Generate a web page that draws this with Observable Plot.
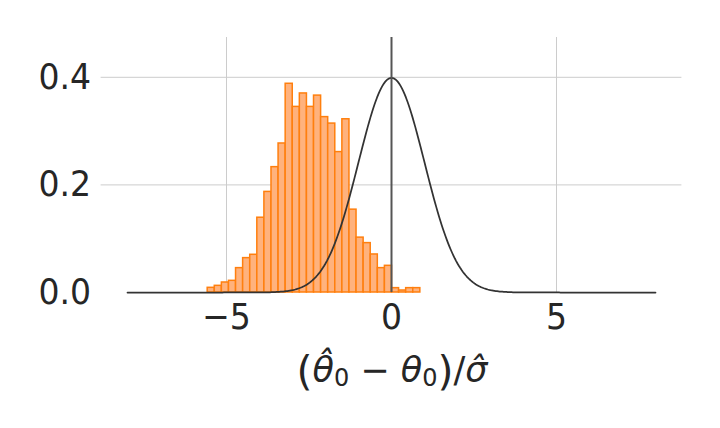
<!DOCTYPE html>
<html><head><meta charset="utf-8">
<script src="https://cdn.jsdelivr.net/npm/d3@7"></script>
<script src="https://cdn.jsdelivr.net/npm/@observablehq/plot@0.6"></script>
<style>body{margin:0;background:#fff;} svg{display:block}</style>
</head><body><div id="chart"></div>
<script>
// Histogram (density) of standardized estimates
const binStart = -5.57;
const binWidth = 0.2148;
const densities = [0.0087, 0.0124, 0.0186, 0.0217, 0.0453, 0.0639, 0.0701, 0.139, 0.187, 0.233,
                   0.277, 0.388, 0.345, 0.370, 0.345, 0.366, 0.326, 0.314, 0.261, 0.322,
                   0.154, 0.102, 0.0918, 0.0707, 0.0453, 0.0496, 0.0081, 0.0037, 0.0081, 0.0081];
// Reference standard normal density, drawn over this range
const curveRange = [-8, 8];
const curveSamples = 401;
const xTicks = [-5, 0, 5];
const yTicks = [0, 0.2, 0.4];
const xDomain = [-8.8, 8.8];
const yDomain = [0, 0.474];

const bins = densities.map((d, i) => ({x1: binStart + i * binWidth, x2: binStart + (i + 1) * binWidth, d}));
const curve = d3.range(curveSamples).map(i => {
  const x = curveRange[0] + (curveRange[1] - curveRange[0]) * i / (curveSamples - 1);
  return {x, y: Math.exp(-x * x / 2) / Math.sqrt(2 * Math.PI)};
});

const fmtX = d => d < 0 ? "\u2212" + Math.abs(d) : String(d);

const plot = Plot.plot({
  width: 720, height: 428,
  marginLeft: 100.6, marginRight: 38.6, marginTop: 37, marginBottom: 136,
  style: {fontFamily: "DejaVu Sans", color: "#262626", background: "#fff"},
  x: {domain: xDomain},
  y: {domain: yDomain},
  marks: [
    Plot.ruleX(xTicks, {stroke: "#cccccc", strokeWidth: 1}),
    Plot.ruleY(yTicks.filter(v => v > 0), {stroke: "#cccccc", strokeWidth: 1}),
    Plot.rect(bins, {x1: "x1", x2: "x2", y1: 0, y2: "d", fill: "#ffb27d", stroke: "#ff7f0e", strokeWidth: 1.5}),
    Plot.line(curve, {x: "x", y: "y", stroke: "#333333", strokeWidth: 1.75}),
    Plot.ruleX([0], {stroke: "#555555", strokeWidth: 2}),
    Plot.axisX(xTicks, {tickSize: 0, tickPadding: 11, fontSize: 36, tickFormat: fmtX, label: null}),
    Plot.axisY(yTicks, {tickSize: 0, tickPadding: 10, fontSize: 36, tickFormat: d3.format(".1f"), label: null})
  ]
});
document.getElementById("chart").appendChild(plot);

const svg = d3.select(plot);
// slightly condensed tick labels, as in the reference
svg.selectAll('g[aria-label="x-axis tick label"] text, g[aria-label="y-axis tick label"] text').each(function() {
  const el = d3.select(this);
  const tr = el.attr("transform");
  if (tr) el.attr("transform", tr + " scale(0.92,1)");
  else {
    const x = +el.attr("x") || 0, y = +el.attr("y") || 0;
    el.attr("x", null).attr("y", null).attr("transform", `translate(${x},${y}) scale(0.92,1)`);
  }
});

// x-axis label with math-style formatting
const lab = svg.append("text")
  .attr("x", plot.scale("x").apply(0) + 1)
  .attr("y", 382)
  .attr("text-anchor", "middle")
  .attr("font-family", "DejaVu Sans")
  .attr("font-size", 35)
  .attr("fill", "#262626");
const parts = [
  {t: "(", paren: true},
  {t: "\u03B8\u0302", it: true},
  {t: "0", sub: true},
  {t: " \u2212 "},
  {t: "\u03B8", it: true},
  {t: "0", sub: true},
  {t: ")", paren: true},
  {t: "/"},
  {t: "\u03C3\u0302", it: true}
];
let shift = 0;
parts.forEach(p => {
  const ts = lab.append("tspan").text(p.t);
  let target = 0;
  if (p.it) ts.attr("font-style", "italic");
  if (p.sub) { ts.attr("font-size", 24); target = 4; }
  if (p.paren) { ts.attr("font-size", 41); target = 3; }
  if (target !== shift) { ts.attr("dy", target - shift); shift = target; }
});
</script>
</body></html>
